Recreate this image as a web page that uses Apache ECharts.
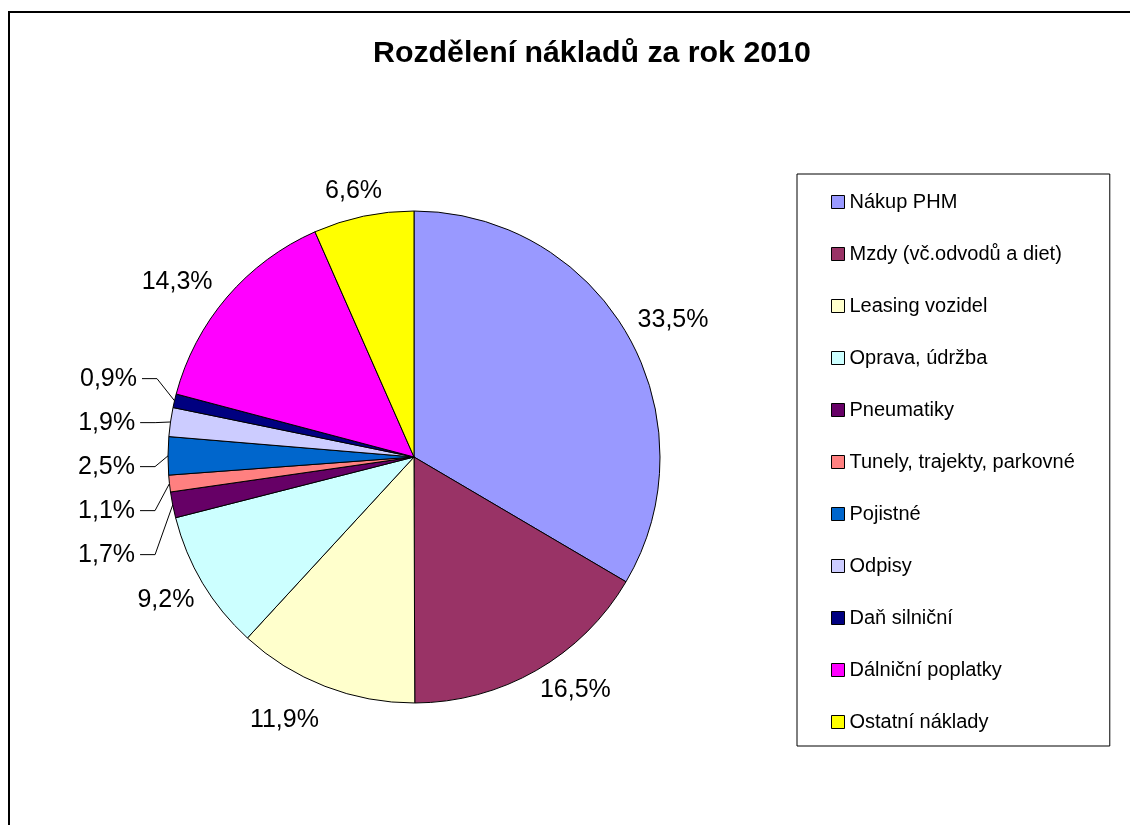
<!DOCTYPE html>
<html>
<head>
<meta charset="utf-8">
<script src="https://cdn.jsdelivr.net/npm/echarts@6/dist/echarts.min.js"></script>
<style>
  html, body { margin: 0; padding: 0; background: #fff; }
  #chart { width: 1130px; height: 825px; }
</style>
</head>
<body>
<div id="chart"></div>
<script>
// Cost breakdown for 2010 (share of total costs, %)
const categories = [
  'Nákup PHM',
  'Mzdy (vč.odvodů a diet)',
  'Leasing vozidel',
  'Oprava, údržba',
  'Pneumatiky',
  'Tunely, trajekty, parkovné',
  'Pojistné',
  'Odpisy',
  'Daň silniční',
  'Dálniční poplatky',
  'Ostatní náklady'
];
const shares = [33.5, 16.5, 11.9, 9.2, 1.7, 1.1, 2.5, 1.9, 0.9, 14.3, 6.6];
const sliceColors = [
  '#9999FF', '#993366', '#FFFFCC', '#CCFFFF', '#660066', '#FF8080',
  '#0066CC', '#CCCCFF', '#000080', '#FF00FF', '#FFFF00'
];

// Thin slices get their labels stacked beside the pie with leader lines
const SMALL_LIMIT = 3;
// Lift the stacked label column so it sits centred on the thin slices
const STACK_LIFT = 18;

// Per-slice label placement for the larger slices (radial offset, text gap)
const bigLabelPlacement = {
  0: { len: 30, gap: -16 },
  1: { len: 23, gap: -8 },
  2: { len: 36, gap: -7 },
  3: { len: 33, gap: -20 },
  9: { len: 23, gap: -3 },
  10: { len: 26, gap: -24 }
};

const FONT = "'Liberation Sans', Arial, Helvetica, sans-serif";
const CENTER = [414, 457];
const RADIUS = 246;

const fmt = v => v.toFixed(1).replace('.', ',') + '%';

const mainData = categories.map((name, i) => {
  const small = shares[i] < SMALL_LIMIT;
  const p = bigLabelPlacement[i] || { len: 15, gap: 5 };
  return {
    name,
    value: shares[i],
    itemStyle: { color: sliceColors[i] },
    label: { show: !small, distanceToLabelLine: p.gap },
    labelLine: { show: false, length: p.len, length2: 0 }
  };
});

// Overlay series carrying only the labels of the thin slices
const smallLabelData = categories.map((name, i) => {
  const small = shares[i] < SMALL_LIMIT;
  return {
    name,
    value: shares[i],
    label: { show: small },
    labelLine: { show: small }
  };
});

const chart = echarts.init(document.getElementById('chart'), null, { renderer: 'canvas' });

chart.setOption({
  backgroundColor: '#ffffff',
  animation: false,
  textStyle: { fontFamily: FONT },
  title: {
    text: 'Rozdělení nákladů za rok 2010',
    left: 373,
    top: 39,
    padding: 0,
    textStyle: { fontFamily: FONT, fontSize: 30.3, fontWeight: 'bold', color: '#000' }
  },
  legend: {
    orient: 'vertical',
    left: 797,
    top: 174,
    padding: [18, 35, 14, 34],
    borderColor: '#000',
    borderWidth: 1,
    itemWidth: 13,
    itemHeight: 13,
    itemGap: 32,
    icon: 'rect',
    selectedMode: false,
    itemStyle: { borderColor: '#000', borderWidth: 1 },
    textStyle: { fontFamily: FONT, fontSize: 20, color: '#000' },
    data: categories.map((name, i) => ({
      name,
      itemStyle: { color: sliceColors[i], borderColor: '#000', borderWidth: 1 }
    }))
  },
  graphic: [{
    type: 'rect',
    silent: true,
    shape: { x: 9, y: 12, width: 1200, height: 900 },
    style: { fill: null, stroke: '#000', lineWidth: 2 }
  }],
  series: [
    {
      name: 'Náklady',
      type: 'pie',
      center: CENTER,
      radius: RADIUS,
      startAngle: 90,
      clockwise: true,
      avoidLabelOverlap: false,
      emphasis: { disabled: true },
      itemStyle: { borderColor: '#000', borderWidth: 1 },
      label: {
        position: 'outside',
        fontFamily: FONT,
        fontSize: 25,
        color: '#000',
        formatter: p => fmt(p.value)
      },
      data: mainData
    },
    {
      name: 'Náklady – popisky',
      type: 'pie',
      center: CENTER,
      radius: RADIUS,
      startAngle: 90,
      clockwise: true,
      silent: true,
      emphasis: { disabled: true },
      avoidLabelOverlap: true,
      itemStyle: { color: 'rgba(0,0,0,0)', borderWidth: 0 },
      label: {
        position: 'outside',
        fontFamily: FONT,
        fontSize: 25,
        lineHeight: 42,
        color: '#000',
        distanceToLabelLine: 5,
        formatter: p => fmt(p.value)
      },
      labelLine: {
        length: 18,
        length2: 15,
        smooth: false,
        lineStyle: { color: '#000', width: 1 }
      },
      labelLayout: params => {
        const pts = params.labelLinePoints;
        if (!pts || !params.labelRect) return {};
        const r = params.labelRect;
        return {
          y: r.y + r.height / 2 - STACK_LIFT,
          labelLinePoints: [
            pts[0],
            [pts[1][0], pts[1][1] - STACK_LIFT],
            [pts[2][0], pts[2][1] - STACK_LIFT]
          ]
        };
      },
      data: smallLabelData
    }
  ]
});
</script>
</body>
</html>
